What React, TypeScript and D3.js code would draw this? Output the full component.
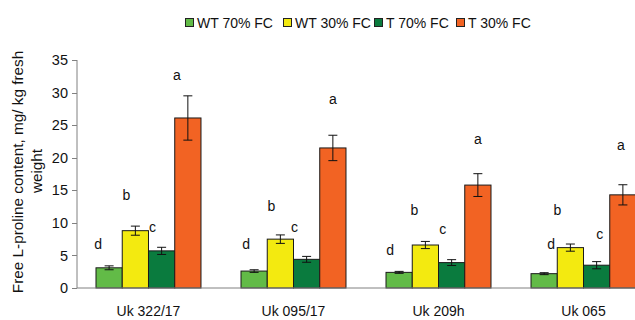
import React from 'react'
import * as d3 from 'd3'

// cultivars on the x axis
const groups = ['Uk 322/17', 'Uk 095/17', 'Uk 209h', 'Uk 065']
const series = ['WT 70% FC', 'WT 30% FC', 'T 70% FC', 'T 30% FC']
const colors = ['#62bb47', '#f3ea10', '#0a7b3e', '#f26323']

// mean values, one array per treatment (mg/ kg fresh weight)
const wt70 = [3.1, 2.6, 2.4, 2.2]
const wt30 = [8.8, 7.5, 6.6, 6.2]
const t70 = [5.7, 4.4, 3.9, 3.5]
const t30 = [26.1, 21.5, 15.8, 14.3]

// standard errors
const wt70Err = [0.3, 0.2, 0.15, 0.15]
const wt30Err = [0.7, 0.65, 0.55, 0.55]
const t70Err = [0.55, 0.45, 0.45, 0.55]
const t30Err = [3.4, 1.95, 1.75, 1.55]

// significance letters and the value they sit at
const letters = [
    ['d', 'b', 'c', 'a'],
    ['d', 'b', 'c', 'a'],
    ['d', 'b', 'c', 'a'],
    ['d', 'b', 'c', 'a'],
]
const letterVal = [
    [6.7, 14.3, 9.4, 32.7],
    [6.7, 12.6, 9.3, 29.0],
    [5.8, 12.0, 9.1, 22.8],
    [6.7, 12.0, 8.3, 21.9],
]

const yTicks = [0, 5, 10, 15, 20, 25, 30, 35]

// horizontal nudge of letters from bar centre (px)
const letterNudge = [
    [-11, -9, -9, -11],
    [-8, -9, -12, 0],
    [-9, -11, -9, 0],
    [7, -13, 3, -2],
]
const legendX = [185, 283, 374, 456]

const values = [wt70, wt30, t70, t30]
const errors = [wt70Err, wt30Err, t70Err, t30Err]

const font = '"Liberation Sans", Arial, sans-serif'

const App = () => {
    const width = 635, height = 320
    const margin = { left: 77, top: 60, bottom: 32 }

    const x0 = d3.scaleBand()
        .domain(groups)
        .range([margin.left, 655])
        .paddingInner(0.276)
        .paddingOuter(0.131)
    const x1 = d3.scaleBand()
        .domain(series)
        .range([0, x0.bandwidth()])
    const y = d3.scaleLinear()
        .domain([0, 35])
        .range([height - margin.bottom, margin.top])

    const axisColor = '#808080'

    return (
        <svg width={width} height={height}
            style={{ position: 'absolute', left: 0, top: 0, fontFamily: font }}>
            <rect width={width} height={height} fill='#fff' />

            {/* legend */}
            {series.map((s, i) => (
                <g key={s} transform={`translate(${legendX[i]},0)`}>
                    <rect x={0.5} y={18.5} width={8} height={8} fill={colors[i]} stroke='#222' />
                    <text x={12} y={28} fontSize={14} fill='#111'>{s}</text>
                </g>
            ))}

            {/* y axis */}
            <line x1={margin.left} x2={margin.left} y1={y(35)} y2={y(0)} stroke={axisColor} />
            {yTicks.map(t => (
                <g key={t}>
                    <line x1={margin.left - 5} x2={margin.left} y1={Math.round(y(t)) + 0.5} y2={Math.round(y(t)) + 0.5} stroke={axisColor} />
                    <text x={margin.left - 9} y={y(t)} dy='0.35em' textAnchor='end' fontSize={14.5} fill='#111'>{t}</text>
                </g>
            ))}

            {/* axis title */}
            <g transform={`translate(18,172) rotate(-90)`}>
                <text textAnchor='middle' dy='0.35em' fontSize={15.3} fill='#111'>Free L-proline content, mg/ kg fresh</text>
            </g>
            <g transform={`translate(37,171) rotate(-90)`}>
                <text textAnchor='middle' dy='0.35em' fontSize={15.3} fill='#111'>weight</text>
            </g>

            {/* bars */}
            {groups.map((g, gi) => (
                <g key={g}>
                    {series.map((s, si) => {
                        const bx = x0(g)! + x1(s)!
                        const v = values[si][gi]
                        const e = errors[si][gi]
                        const cx = bx + x1.bandwidth() / 2
                        return (
                            <g key={s}>
                                <rect x={bx} y={y(v)} width={x1.bandwidth()} height={y(0) - y(v)}
                                    fill={colors[si]} stroke='#1a1a1a' strokeWidth={1} />
                                <line x1={cx} x2={cx} y1={y(v + e)} y2={y(v - e)} stroke='#111' />
                                <line x1={cx - 4.5} x2={cx + 4.5} y1={y(v + e)} y2={y(v + e)} stroke='#111' />
                                <line x1={cx - 4.5} x2={cx + 4.5} y1={y(v - e)} y2={y(v - e)} stroke='#111' />
                                <text x={cx + letterNudge[gi][si]} y={y(letterVal[gi][si])} dy='0.35em'
                                    textAnchor='middle' fontSize={14} fill='#111'>{letters[gi][si]}</text>
                            </g>
                        )
                    })}
                    <text x={x0(g)! + x0.bandwidth() / 2} y={height - 4} textAnchor='middle'
                        fontSize={14} fill='#111'>{g}</text>
                </g>
            ))}

            {/* x axis */}
            <line x1={margin.left} x2={width} y1={y(0)} y2={y(0)} stroke={axisColor} />
        </svg>
    )
}

export default App
